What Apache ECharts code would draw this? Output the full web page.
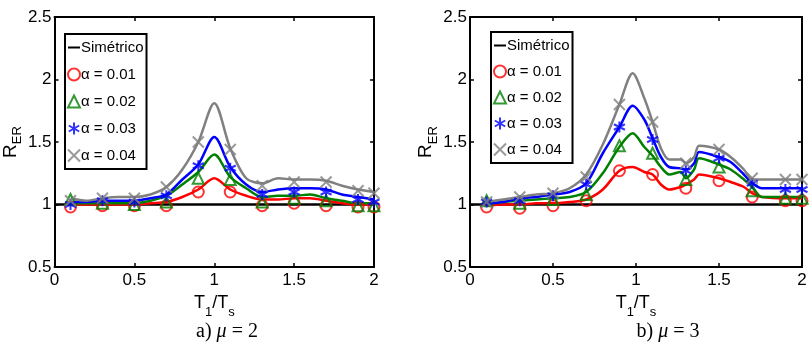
<!DOCTYPE html>
<html>
<head>
<meta charset="utf-8">
<script src="https://cdn.jsdelivr.net/npm/echarts@6/dist/echarts.min.js"></script>
<style>
  html, body { margin: 0; padding: 0; background: #fff; }
  #main { width: 811px; height: 354px; }
</style>
</head>
<body>
<div id="main"></div>
<script>
// curvas (a) mu = 2
const xsA = [0.1, 0.2, 0.3, 0.4, 0.5, 0.6, 0.7, 0.8, 0.9, 1.0, 1.1, 1.2, 1.3, 1.4, 1.5, 1.6, 1.7, 1.8, 1.9, 2.0];
const a001 = [1.00, 1.00, 1.00, 1.00, 1.00, 1.01, 1.02, 1.06, 1.12, 1.21, 1.12, 1.07, 1.04, 1.04, 1.05, 1.05, 1.03, 1.01, 1.00, 1.00];
const a002 = [1.01, 1.01, 1.01, 1.01, 1.01, 1.03, 1.07, 1.16, 1.26, 1.40, 1.22, 1.13, 1.06, 1.07, 1.07, 1.08, 1.05, 1.03, 1.01, 1.01];
const a003 = [1.02, 1.02, 1.03, 1.03, 1.03, 1.05, 1.08, 1.20, 1.32, 1.54, 1.30, 1.16, 1.10, 1.12, 1.13, 1.13, 1.12, 1.08, 1.06, 1.04];
const a004 = [1.05, 1.03, 1.05, 1.06, 1.06, 1.08, 1.14, 1.28, 1.50, 1.81, 1.45, 1.21, 1.17, 1.21, 1.20, 1.20, 1.19, 1.15, 1.12, 1.10];

// curvas (b) mu = 3
const xsB = [0.1, 0.2, 0.3, 0.4, 0.5, 0.6, 0.7, 0.8, 0.9, 0.98, 1.05, 1.1, 1.15, 1.2, 1.27, 1.3, 1.35, 1.38, 1.5, 1.57, 1.65, 1.7, 1.76, 1.9, 2.0];
const b001 = [0.99, 1.00, 1.00, 1.01, 1.01, 1.02, 1.04, 1.12, 1.27, 1.30, 1.26, 1.24, 1.16, 1.12, 1.14, 1.16, 1.20, 1.24, 1.21, 1.18, 1.14, 1.09, 1.06, 1.05, 1.05];
const b002 = [1.00, 1.02, 1.03, 1.04, 1.05, 1.06, 1.10, 1.25, 1.46, 1.57, 1.46, 1.39, 1.30, 1.24, 1.26, 1.21, 1.28, 1.37, 1.32, 1.28, 1.20, 1.14, 1.06, 1.06, 1.06];
const b003 = [1.01, 1.02, 1.05, 1.06, 1.08, 1.10, 1.17, 1.41, 1.62, 1.79, 1.68, 1.53, 1.38, 1.30, 1.29, 1.28, 1.33, 1.42, 1.38, 1.34, 1.24, 1.17, 1.13, 1.13, 1.13];
const b004 = [1.02, 1.04, 1.06, 1.08, 1.09, 1.13, 1.24, 1.48, 1.80, 2.05, 1.85, 1.66, 1.45, 1.36, 1.36, 1.33, 1.38, 1.47, 1.44, 1.38, 1.28, 1.20, 1.20, 1.20, 1.20];

// marcadores
const xsM = [0.1, 0.3, 0.5, 0.7, 0.9, 1.1, 1.3, 1.5, 1.7, 1.9, 2.0];
const ma001 = [0.98, 0.99, 0.99, 0.99, 1.10, 1.10, 0.99, 1.01, 0.99, 0.98, 0.98];
const ma002 = [1.04, 1.01, 1.00, 1.02, 1.21, 1.20, 1.02, 1.05, 1.03, 0.99, 0.99];
const ma003 = [1.00, 1.03, 1.02, 1.07, 1.31, 1.29, 1.08, 1.10, 1.10, 1.04, 1.02];
const ma004 = [1.03, 1.05, 1.05, 1.14, 1.50, 1.44, 1.15, 1.18, 1.18, 1.11, 1.09];
const mb001 = [0.98, 0.97, 0.99, 1.03, 1.27, 1.24, 1.13, 1.19, 1.06, 1.03, 1.03];
const mb002 = [1.03, 1.01, 1.04, 1.08, 1.47, 1.41, 1.20, 1.30, 1.11, 1.05, 1.05];
const mb003 = [1.02, 1.03, 1.07, 1.16, 1.62, 1.52, 1.27, 1.37, 1.17, 1.12, 1.12];
const mb004 = [1.02, 1.06, 1.09, 1.22, 1.80, 1.66, 1.33, 1.44, 1.21, 1.20, 1.20];

const names = ['α = 0.01', 'α = 0.02', 'α = 0.03', 'α = 0.04'];
const colors = ['#ff0000', '#008000', '#0000ff', '#808080'];
const symbols = [
  'circle',
  'triangle',
  'path://M0,-5L0,5M-4.33,-2.5L4.33,2.5M-4.33,2.5L4.33,-2.5',
  'path://M-4,-4L4,4M-4,4L4,-4'
];
const captions = ['a) {i|μ} = 2', 'b) {i|μ} = 3'];

const FONT = "'Liberation Sans Narrow', 'Arial Narrow', 'Liberation Sans', Arial, sans-serif";
const pair = (xs, ys) => xs.map((x, i) => [x, ys[i]]);

const myChart = echarts.init(document.getElementById('main'));

const grids = [
  { left: 44, top: 17, width: 330, height: 250 },
  { left: 470, top: 17, width: 332, height: 250 }
];
const capX = [227, 668];
const legendPos = [{ left: 65, top: 34, gap: 12 }, { left: 491, top: 32, gap: 11 }];

const xAxis = [], yAxis = [], series = [], legend = [], graphic = [];

grids.forEach((g, k) => {
  const tickOpt = { show: true, inside: true, length: 4, lineStyle: { color: '#000', width: 1.5 } };
  const lineOpt = { show: true, onZero: false, lineStyle: { color: '#000', width: 2 } };
  xAxis.push({
    gridIndex: k, type: 'value', min: 0, max: 2, interval: 0.5, position: 'bottom',
    axisLine: lineOpt, axisTick: tickOpt, splitLine: { show: false },
    axisLabel: { color: '#000', fontFamily: FONT, fontSize: 17, margin: 5,
      formatter: v => String(v) },
    name: '{a|T}{b|1}{a|/T}{b|s}', nameLocation: 'middle', nameGap: 22,
    nameTextStyle: { rich: {
      a: { fontFamily: FONT, fontSize: 18, color: '#000', verticalAlign: 'top', lineHeight: 18 },
      b: { fontFamily: FONT, fontSize: 13, color: '#000', verticalAlign: 'top', lineHeight: 18, padding: [12, 0, 0, 0] }
    } }
  });
  xAxis.push({
    gridIndex: k, type: 'value', min: 0, max: 2, interval: 0.5, position: 'top',
    axisLine: lineOpt, axisTick: tickOpt, splitLine: { show: false }, axisLabel: { show: false }
  });
  yAxis.push({
    gridIndex: k, type: 'value', min: 0.5, max: 2.5, interval: 0.5, position: 'left',
    axisLine: lineOpt, axisTick: tickOpt, splitLine: { show: false },
    axisLabel: { color: '#000', fontFamily: FONT, fontSize: 17, margin: 3,
      formatter: v => String(v) },
    name: '{a|R}{b|ER}', nameLocation: 'middle', nameGap: 22,
    nameTextStyle: { rich: {
      a: { fontFamily: FONT, fontSize: 19, color: '#000', verticalAlign: 'top', lineHeight: 19 },
      b: { fontFamily: FONT, fontSize: 13, color: '#000', verticalAlign: 'top', lineHeight: 19, padding: [10, 0, 0, 0] }
    } }
  });
  yAxis.push({
    gridIndex: k, type: 'value', min: 0.5, max: 2.5, interval: 0.5, position: 'right',
    axisLine: lineOpt, axisTick: tickOpt, splitLine: { show: false }, axisLabel: { show: false }
  });

  const xi = k * 2, yi = k * 2;
  series.push({
    name: 'Simétrico', type: 'line', xAxisIndex: xi, yAxisIndex: yi,
    data: [[0, 1], [2, 1]], symbol: 'none', color: '#000',
    lineStyle: { color: '#000', width: 2.5 }, z: 2
  });
  const lines = k === 0 ? [a001, a002, a003, a004] : [b001, b002, b003, b004];
  const marks = k === 0 ? [ma001, ma002, ma003, ma004] : [mb001, mb002, mb003, mb004];
  const xs = k === 0 ? xsA : xsB;
  lines.forEach((ys, i) => {
    series.push({
      name: 'linea' + i, type: 'line', xAxisIndex: xi, yAxisIndex: yi,
      data: pair(xs, ys), smooth: 0.3, symbol: 'none',
      lineStyle: { color: colors[i], width: 2.5 }, z: 3 + i
    });
  });
  marks.forEach((ys, i) => {
    series.push({
      name: names[i], type: 'scatter', xAxisIndex: xi, yAxisIndex: yi,
      data: pair(xsM, ys), symbol: symbols[i], symbolSize: 11,
      itemStyle: { color: 'rgba(0,0,0,0)', borderColor: colors[i], borderWidth: 2 },
      z: 8 + i
    });
  });

  legend.push({
    orient: 'vertical', left: legendPos[k].left, top: legendPos[k].top,
    backgroundColor: '#fff', borderColor: '#000', borderWidth: 2, padding: [6, 3, 6, 2],
    itemWidth: 12, itemHeight: 12, itemGap: legendPos[k].gap,
    selectedMode: false,
    textStyle: { fontFamily: FONT, fontSize: 15, color: '#000', padding: [0, 0, 0, -4] },
    data: [{ name: 'Simétrico', icon: 'path://M0,5L12,5L12,7L0,7Z', itemStyle: { color: '#000' } }].concat(names)
  });

  graphic.push({
    type: 'text', x: capX[k], y: 332,
    style: {
      text: captions[k], textAlign: 'center', textVerticalAlign: 'middle',
      font: "20px 'Liberation Serif', 'Times New Roman', serif", fill: '#000',
      rich: { i: { fontStyle: 'italic', fontFamily: "'Liberation Serif', serif", fontSize: 20 } }
    }
  });
});

myChart.setOption({
  animation: false,
  grid: grids,
  xAxis: xAxis,
  yAxis: yAxis,
  legend: legend,
  series: series,
  graphic: graphic
});
</script>
</body>
</html>
